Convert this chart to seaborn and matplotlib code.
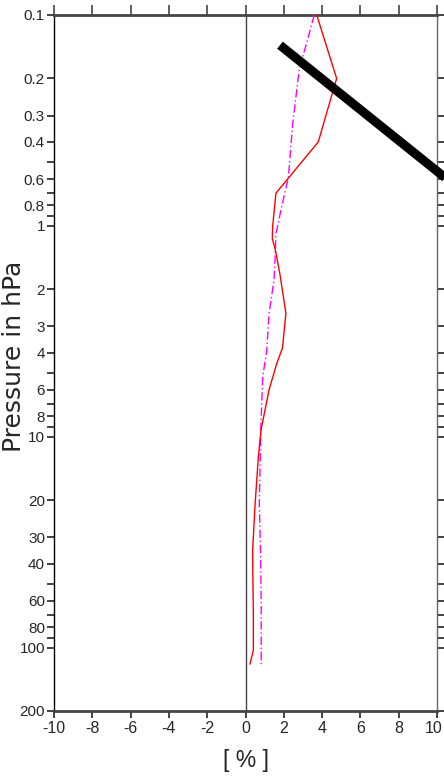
import matplotlib
matplotlib.use("Agg")
import matplotlib.pyplot as plt
import matplotlib.transforms as mtransforms
import seaborn as sns
import pandas as pd
import numpy as np

# Vertical profiles: percentage value at each pressure level (hPa)
red_pressure = [0.1, 0.2, 0.4, 0.7, 1.0, 1.15, 1.3, 1.7, 2.6, 3.8, 4.5, 6.0, 9.3, 12.5, 21, 35, 70, 103, 120]
red_percent = [3.72, 4.76, 3.80, 1.59, 1.42, 1.40, 1.56, 1.80, 2.11, 1.93, 1.63, 1.23, 0.81, 0.67, 0.50, 0.37, 0.41, 0.41, 0.23]

magenta_pressure = [0.1, 0.136, 0.18, 0.33, 0.59, 0.81, 1.09, 1.45, 1.8, 2.6, 3.9, 5.2, 8.6, 20.7, 37, 60, 120]
magenta_percent = [3.59, 3.19, 2.81, 2.46, 2.24, 1.89, 1.59, 1.54, 1.49, 1.23, 1.11, 0.90, 0.81, 0.72, 0.79, 0.82, 0.82]

# Heavy diagonal stroke across the upper right
stroke_x = [1.8, 12.0]
stroke_p = [0.139, 0.77]

x_ticks = [-10, -8, -6, -4, -2, 0, 2, 4, 6, 8, 10]
y_ticks = [0.1, 0.2, 0.3, 0.4, 0.5, 0.6, 0.7, 0.8, 0.9, 1, 2, 3, 4, 5, 6, 7, 8, 9,
           10, 20, 30, 40, 50, 60, 70, 80, 90, 100, 200]
y_tick_labels = ["0.1", "0.2", "0.3", "0.4", "", "0.6", "", "0.8", "", "1",
                 "2", "3", "4", "", "6", "", "8", "", "10",
                 "20", "30", "40", "", "60", "", "80", "", "100", "200"]

sns.set_style("white")
plt.rcParams["font.family"] = ["Liberation Sans Narrow", "Liberation Sans", "DejaVu Sans"]
plt.rcParams["axes.unicode_minus"] = False

fig = plt.figure(figsize=(4.44, 7.82), dpi=100)
ax = fig.add_axes([54 / 444, 1 - 711 / 782, 383 / 444, 696 / 782])

red_df = pd.DataFrame({"percent": red_percent, "pressure": red_pressure})
mag_df = pd.DataFrame({"percent": magenta_percent, "pressure": magenta_pressure})

ax.axvline(0, color="#444444", lw=1.0, zorder=1)

sns.lineplot(data=mag_df, x="percent", y="pressure", sort=False, estimator=None,
             color="#ff00ff", lw=1.0, linestyle=(0, (6, 2, 1, 2)), ax=ax, zorder=3)
sns.lineplot(data=red_df, x="percent", y="pressure", sort=False, estimator=None,
             color="#ff0000", lw=1.0, ax=ax, zorder=4)

ax.plot(stroke_x, stroke_p, color="black", lw=6.5, solid_capstyle="butt",
        clip_on=False, zorder=5)

ax.set_yscale("log")
ax.set_ylim(200, 0.1)
ax.set_xlim(-10, 10)

ax.set_yticks(y_ticks)
ax.set_yticklabels(y_tick_labels)
ax.yaxis.set_minor_locator(matplotlib.ticker.NullLocator())
ax.set_xticks(x_ticks)
ax.set_xticklabels([str(v) for v in x_ticks])

ax.tick_params(axis="y", which="major", left=True, right=True, direction="out",
               length=5, width=1.2, color="#222222", pad=1.5, labelsize=11)
ax.tick_params(axis="x", which="major", bottom=True, top=False, direction="out",
               length=5, width=1.2, color="#222222", pad=2.5, labelsize=11.5)

# keep the right-most x label inside the figure edge
last_label = ax.get_xticklabels()[-1]
last_label.set_transform(last_label.get_transform() +
                         mtransforms.ScaledTranslation(-3 / 100, 0, fig.dpi_scale_trans))

top = ax.secondary_xaxis("top")
top.set_xticks(x_ticks)
top.tick_params(axis="x", direction="out", length=7, width=1.2, color="#444444",
                labeltop=False)
top.spines["top"].set_visible(False)

for side in ["top", "bottom"]:
    ax.spines[side].set_color("#444444")
    ax.spines[side].set_linewidth(2.0)
ax.spines["left"].set_color("black")
ax.spines["left"].set_linewidth(1.0)
ax.spines["right"].set_color("#666666")
ax.spines["right"].set_linewidth(1.0)

ax.set_ylabel("Pressure in hPa", family=["DejaVu Sans"], fontsize=18)
ax.yaxis.label.set_verticalalignment("center")
ax.yaxis.set_label_coords((14 - 54) / 383, 0.51)

ax.set_xlabel("[ % ]", fontsize=16.5)
ax.xaxis.label.set_verticalalignment("center")
ax.xaxis.set_label_coords((246 - 54) / 383, (711 - 761) / 696)

fig.savefig("out.png", dpi=100)
